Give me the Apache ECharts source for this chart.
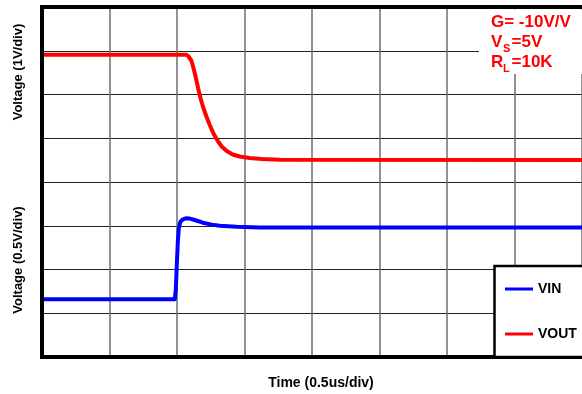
<!DOCTYPE html>
<html>
<head>
<meta charset="utf-8">
<script src="https://cdn.jsdelivr.net/npm/echarts@6/dist/echarts.min.js"></script>
<style>
  html, body { margin: 0; padding: 0; background: #fff; }
  #chart { width: 582px; height: 394px; }
</style>
</head>
<body>
<div id="chart"></div>
<script>
// Scope-style step response, values in screen divisions (8 x 8 grid)
const timeDiv = [0, 8];
const voltDiv = [0, 8];

// VOUT trace (1 V/div), time in divisions (0.5 us/div)
const voutTime = [0, 2.130, 2.160, 2.189, 2.212, 2.234, 2.263, 2.293, 2.322, 2.352, 2.389, 2.433,
  2.485, 2.544, 2.604, 2.663, 2.737, 2.825, 2.929, 3.077, 3.254, 3.521, 8];
const voutLevel = [6.91, 6.91, 6.891, 6.846, 6.777, 6.663, 6.491, 6.286, 6.080, 5.897, 5.703, 5.509,
  5.303, 5.097, 4.937, 4.811, 4.709, 4.629, 4.583, 4.549, 4.526, 4.510, 4.503];

// VIN trace (0.5 V/div)
const vinTime = [0, 1.967, 1.982, 1.997, 2.012, 2.027, 2.049, 2.086, 2.130, 2.189, 2.263, 2.382,
  2.515, 2.633, 2.885, 3.225, 8];
const vinLevel = [1.319, 1.319, 1.531, 2.103, 2.629, 2.949, 3.086, 3.147, 3.170, 3.163, 3.131, 3.070,
  3.026, 3.001, 2.976, 2.962, 2.960];

const seriesNames = ['VIN', 'VOUT'];
const seriesColors = ['#0000ff', '#ff0000'];

const FONT = '"Liberation Sans", Arial, sans-serif';

function pairs(xs, ys) { return xs.map((x, i) => [x, ys[i]]); }

const chart = echarts.init(document.getElementById('chart'), null, { renderer: 'canvas' });

chart.setOption({
  animation: false,
  backgroundColor: '#ffffff',
  grid: {
    left: 42, top: 7, width: 541, height: 350,
    show: true, borderWidth: 0, backgroundColor: '#fff'
  },
  xAxis: {
    type: 'value', min: timeDiv[0], max: timeDiv[1], interval: 1,
    axisLine: { show: false }, axisTick: { show: false }, axisLabel: { show: false },
    splitLine: { show: true, lineStyle: { color: '#6e6e6e', width: 1.5 } }
  },
  yAxis: {
    type: 'value', min: voltDiv[0], max: voltDiv[1], interval: 1,
    axisLine: { show: false }, axisTick: { show: false }, axisLabel: { show: false },
    splitLine: { show: true, lineStyle: { color: '#222', width: 1.2 } }
  },
  legend: {
    orient: 'vertical', left: 505, top: 282, padding: 0, itemGap: 31,
    icon: 'rect', itemWidth: 28, itemHeight: 3, z: 20,
    data: seriesNames,
    textStyle: { fontFamily: FONT, fontWeight: 'bold', fontSize: 14, color: '#000', lineHeight: 14 }
  },
  series: [
    {
      name: seriesNames[0], type: 'line', data: pairs(vinTime, vinLevel),
      showSymbol: false, smooth: false,
      lineStyle: { color: seriesColors[0], width: 4, join: 'round' }, itemStyle: { color: seriesColors[0] }
    },
    {
      name: seriesNames[1], type: 'line', data: pairs(voutTime, voutLevel),
      showSymbol: false, smooth: false,
      lineStyle: { color: seriesColors[1], width: 4, join: 'round' }, itemStyle: { color: seriesColors[1] }
    }
  ],
  graphic: [
    // plot frame (right edge falls outside the page)
    { type: 'line', z: 5, shape: { x1: 42, y1: 5, x2: 42, y2: 359 }, style: { stroke: '#000', lineWidth: 4 } },
    { type: 'line', z: 5, shape: { x1: 40, y1: 7, x2: 590, y2: 7 }, style: { stroke: '#000', lineWidth: 4 } },
    { type: 'line', z: 5, shape: { x1: 40, y1: 357, x2: 590, y2: 357 }, style: { stroke: '#000', lineWidth: 4 } },
    // condition note panel
    { type: 'rect', z: 10, shape: { x: 479, y: 9.5, width: 110, height: 64.5 }, style: { fill: '#fff' } },
    { type: 'text', z: 11, x: 491, y: 22, style: { text: 'G= -10V/V', fill: '#ff0000', font: 'bold 17px ' + FONT, verticalAlign: 'middle' } },
    { type: 'text', z: 11, x: 491, y: 42, style: { text: 'V', fill: '#ff0000', font: 'bold 17px ' + FONT, verticalAlign: 'middle' } },
    { type: 'text', z: 11, x: 503, y: 48.5, style: { text: 'S', fill: '#ff0000', font: 'bold 11px ' + FONT, verticalAlign: 'middle' } },
    { type: 'text', z: 11, x: 511.5, y: 42, style: { text: '=5V', fill: '#ff0000', font: 'bold 17px ' + FONT, verticalAlign: 'middle' } },
    { type: 'text', z: 11, x: 491, y: 62, style: { text: 'R', fill: '#ff0000', font: 'bold 17px ' + FONT, verticalAlign: 'middle' } },
    { type: 'text', z: 11, x: 503, y: 68.5, style: { text: 'L', fill: '#ff0000', font: 'bold 11px ' + FONT, verticalAlign: 'middle' } },
    { type: 'text', z: 11, x: 511.5, y: 62, style: { text: '=10K', fill: '#ff0000', font: 'bold 17px ' + FONT, verticalAlign: 'middle' } },
    // legend frame
    { type: 'rect', z: 15, shape: { x: 494.5, y: 266, width: 100, height: 91 }, style: { fill: '#fff', stroke: '#000', lineWidth: 2.5 } },
    // axis titles
    { type: 'text', z: 11, x: 18, y: 72, rotation: Math.PI / 2,
      style: { text: 'Voltage (1V/div)', fill: '#000', font: 'bold 13px ' + FONT, align: 'center', verticalAlign: 'middle' } },
    { type: 'text', z: 11, x: 18, y: 260, rotation: Math.PI / 2,
      style: { text: 'Voltage (0.5V/div)', fill: '#000', font: 'bold 13px ' + FONT, align: 'center', verticalAlign: 'middle' } },
    { type: 'text', z: 11, x: 321, y: 383,
      style: { text: 'Time (0.5us/div)', fill: '#000', font: 'bold 14px ' + FONT, align: 'center', verticalAlign: 'middle' } }
  ]
});
</script>
</body>
</html>
